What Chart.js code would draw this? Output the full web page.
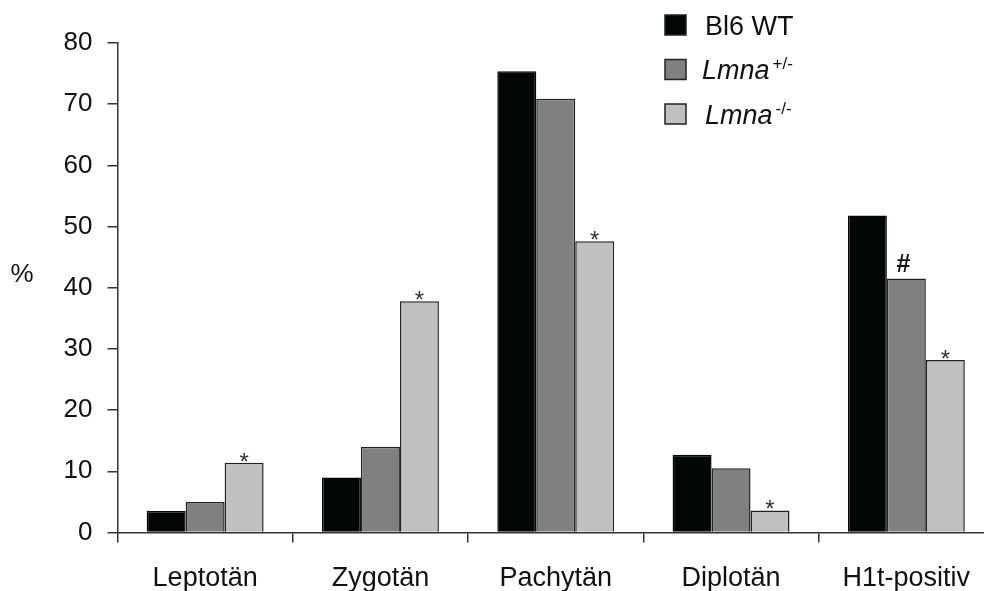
<!DOCTYPE html>
<html>
<head>
<meta charset="utf-8">
<script src="https://cdn.jsdelivr.net/npm/chart.js@4"></script>
<style>
  html, body { margin: 0; padding: 0; background: #fff; overflow: hidden; }
  #wrap { width: 1000px; height: 591px; }
</style>
</head>
<body>
<div id="wrap"><canvas id="stageChart"></canvas></div>
<script>
const categories = ['Leptotän', 'Zygotän', 'Pachytän', 'Diplotän', 'H1t-positiv'];
const wtValues = [3.5, 9.0, 75.4, 12.7, 51.8];
const hetValues = [5.0, 14.0, 70.9, 10.5, 41.5];
const koValues = [11.4, 37.8, 47.6, 3.6, 28.2];

// significance marks above the bars
const wtMarks = ['', '', '', '', ''];
const hetMarks = ['', '', '', '', '#'];
const koMarks = ['*', '*', '*', '*', '*'];

const seriesNames = ['Bl6 WT', 'Lmna', 'Lmna'];
const seriesSup = ['', '+/-', '-/-'];
const seriesColors = ['#020604', '#7f807f', '#c0c0c0'];

const FONT = "'Liberation Sans', Arial, sans-serif";
const marks = [wtMarks, hetMarks, koMarks];

const overlay = {
  id: 'overlay',
  afterDatasetsDraw(chart) {
    const ctx = chart.ctx;
    ctx.save();
    ctx.fillStyle = '#111';
    ctx.textAlign = 'center';
    ctx.textBaseline = 'alphabetic';
    marks.forEach((list, i) => {
      const meta = chart.getDatasetMeta(i);
      meta.data.forEach((bar, j) => {
        const m = list[j];
        if (!m) return;
        if (m === '#') {
          ctx.font = 'bold 25px ' + FONT;
          ctx.fillText(m, bar.x - 3, bar.y - 7);
        } else {
          ctx.fillStyle = '#333';
          ctx.font = '24px ' + FONT;
          ctx.fillText(m, bar.x, bar.y + 7);
          ctx.fillStyle = '#111';
        }
      });
    });

    // y axis label, not rotated
    ctx.font = '26px ' + FONT;
    ctx.textBaseline = 'middle';
    ctx.fillText('%', 22, 275);

    // legend
    ctx.textAlign = 'left';
    ctx.textBaseline = 'alphabetic';
    seriesNames.forEach((name, i) => {
      const top = 15 + i * 44.5;
      ctx.fillStyle = seriesColors[i];
      ctx.fillRect(665, top, 21, 20);
      ctx.strokeStyle = '#222';
      ctx.lineWidth = 1.5;
      ctx.strokeRect(665, top, 21, 20);
      ctx.fillStyle = '#111';
      const base = top + 19.5;
      if (seriesSup[i]) {
        ctx.font = 'italic 27px ' + FONT;
        const x0 = i === 1 ? 702 : 705;
        ctx.fillText(name, x0, base);
        const w = ctx.measureText(name).width;
        ctx.font = '17px ' + FONT;
        ctx.fillText(seriesSup[i], x0 + w + 3, base - 10);
      } else {
        ctx.font = '27px ' + FONT;
        ctx.fillText(name, 705, base);
      }
    });
    ctx.restore();
  }
};

new Chart(document.getElementById('stageChart'), {
  type: 'bar',
  data: {
    labels: categories,
    datasets: [wtValues, hetValues, koValues].map((vals, i) => ({
      label: seriesNames[i] + (seriesSup[i] ? ' ' + seriesSup[i] : ''),
      data: vals,
      backgroundColor: seriesColors[i],
      borderColor: i === 0 ? seriesColors[0] : '#222',
      borderWidth: 1.5,
      categoryPercentage: 0.667,
      barPercentage: 1.0
    }))
  },
  options: {
    responsive: true,
    maintainAspectRatio: false,
    animation: false,
    layout: { padding: { top: 43, right: 6, left: 0, bottom: 0 } },
    plugins: {
      legend: { display: false },
      tooltip: { enabled: false }
    },
    scales: {
      x: {
        afterFit: s => { s.height = 58.5; },
        grid: { drawOnChartArea: false, offset: true, tickLength: 10, color: '#333', lineWidth: 1.5 },
        border: { display: true, color: '#333', width: 1.5 },
        ticks: { color: '#111', padding: 20, font: { family: FONT, size: 27 } }
      },
      y: {
        min: 0,
        max: 80,
        afterFit: s => { s.width = 117.5; },
        grid: { drawOnChartArea: false, tickLength: 10, color: '#333', lineWidth: 1.5 },
        border: { display: true, color: '#333', width: 1.5 },
        ticks: { stepSize: 10, color: '#111', padding: 15, font: { family: FONT, size: 26 } }
      }
    }
  },
  plugins: [overlay]
});
</script>
</body>
</html>
